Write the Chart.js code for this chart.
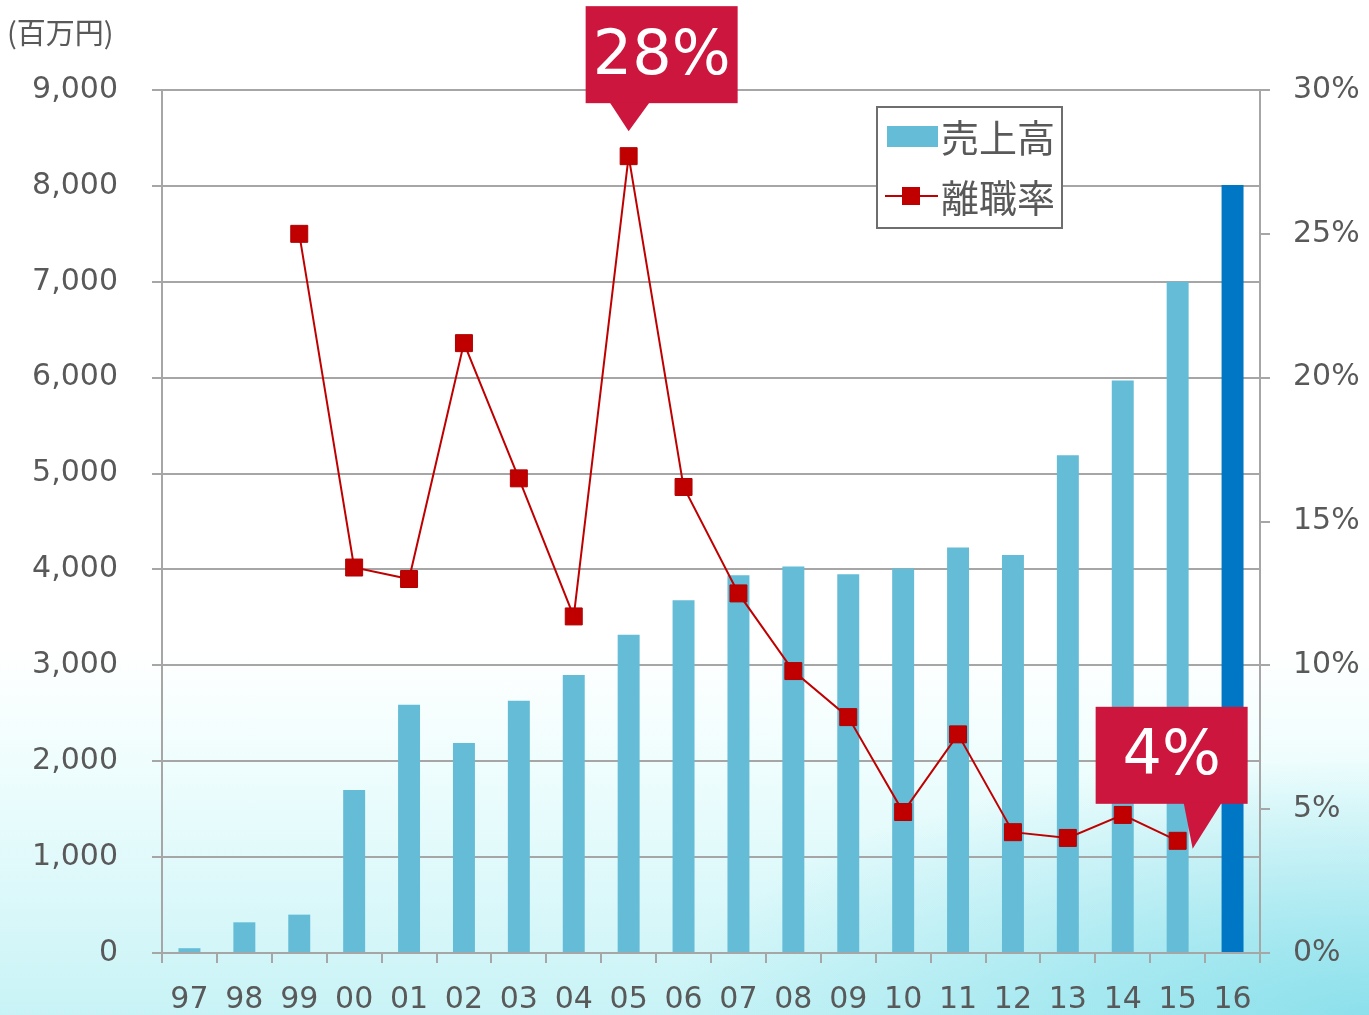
<!DOCTYPE html>
<html>
<head>
<meta charset="utf-8">
<script src="https://cdn.jsdelivr.net/npm/chart.js@4.4.1/dist/chart.umd.min.js"></script>
<style>
  html, body { margin: 0; padding: 0; }
  body {
    width: 1369px; height: 1015px; overflow: hidden; position: relative;
    background:
      radial-gradient(ellipse 700px 260px at 1369px 1015px, rgba(120, 218, 232, 0.75), rgba(120, 218, 232, 0) 100%),
      linear-gradient(180deg, #ffffff 0%, #ffffff 64%, #eefdfd 76%, #dcf8fa 88%, #c8f3f6 100%);
  }
  #wrap { position: absolute; left: 0; top: 0; width: 1369px; height: 1015px; }
  #unit {
    position: absolute; left: 7px; top: 10px;
    font: 29px 'Noto Sans CJK JP', sans-serif; color: #595959;
  }
</style>
</head>
<body>
<div id="wrap">
  <canvas id="salesChart" width="1369" height="1015"></canvas>
  <div id="unit">(百万円)</div>
</div>
<script>
// ================================
// Data
// ================================
const years = ['97', '98', '99', '00', '01', '02', '03', '04', '05', '06',
               '07', '08', '09', '10', '11', '12', '13', '14', '15', '16'];
const sales = [50, 320, 400, 1700, 2590, 2190, 2630, 2900, 3320, 3680,
               3940, 4030, 3950, 4010, 4230, 4150, 5190, 5970, 7000, 8010];
const turnover = [null, null, 25.0, 13.4, 13.0, 21.2, 16.5, 11.7, 27.7, 16.2,
                  12.5, 9.8, 8.2, 4.9, 7.6, 4.2, 4.0, 4.8, 3.9, null];
const salesLabel = '売上高';
const turnoverLabel = '離職率';
const callouts = [
  { index: 8, text: '28%' },
  { index: 18, text: '4%' }
];

const textColor = '#595959';
const gridColor = '#a6a6a6';
const barColor = '#65bcd6';
const lastBarColor = '#0077c4';
const lineColor = '#c00000';
const calloutColor = '#cc163e';

Chart.defaults.font.family = "'DejaVu Sans', 'Noto Sans CJK JP', sans-serif";
Chart.defaults.color = textColor;

// ================================
// Callouts + legend drawn on top
// ================================
const overlayPlugin = {
  id: 'overlay',
  afterDraw(chart) {
    const ctx = chart.ctx;
    const meta = chart.getDatasetMeta(0);

    // callout boxes
    callouts.forEach((c, n) => {
      const pt = meta.data[c.index];
      let tipX, tipY, boxL, boxT, baseL, baseR;
      if (n === 0) {
        tipX = pt.x; tipY = pt.y - 25;
        boxL = tipX - 43; boxT = tipY - 125;
        baseL = tipX - 19; baseR = tipX + 21;
      } else {
        tipX = pt.x + 15; tipY = pt.y + 8;
        boxL = tipX - 97; boxT = tipY - 142;
        baseL = tipX - 9; baseR = tipX + 29;
      }
      const boxW = 152, boxH = 97;
      ctx.save();
      ctx.fillStyle = calloutColor;
      ctx.fillRect(boxL, boxT, boxW, boxH);
      ctx.beginPath();
      ctx.moveTo(baseL, boxT + boxH - 1);
      ctx.lineTo(baseR, boxT + boxH - 1);
      ctx.lineTo(tipX, tipY);
      ctx.closePath();
      ctx.fill();
      ctx.fillStyle = '#ffffff';
      ctx.font = "62px 'DejaVu Sans', sans-serif";
      ctx.textAlign = 'center';
      ctx.textBaseline = 'middle';
      ctx.fillText(c.text, boxL + boxW / 2, boxT + boxH / 2 + 3);
      ctx.restore();
    });

    // legend box
    ctx.save();
    ctx.fillStyle = '#ffffff';
    ctx.fillRect(877, 107, 185, 121);
    ctx.strokeStyle = '#6e6e6e';
    ctx.lineWidth = 2;
    ctx.strokeRect(877, 107, 185, 121);
    ctx.fillStyle = barColor;
    ctx.fillRect(887, 126, 51, 21);
    ctx.strokeStyle = lineColor;
    ctx.beginPath();
    ctx.moveTo(885, 196);
    ctx.lineTo(938, 196);
    ctx.stroke();
    ctx.fillStyle = lineColor;
    ctx.fillRect(902, 187, 18, 18);
    ctx.fillStyle = textColor;
    ctx.font = "38px 'Noto Sans CJK JP', sans-serif";
    ctx.textBaseline = 'middle';
    ctx.fillText(salesLabel, 941, 138);
    ctx.fillText(turnoverLabel, 941, 198);
    ctx.restore();
  }
};

const ctx = document.getElementById('salesChart').getContext('2d');
const salesChart = new Chart(ctx, {
  data: {
    labels: years,
    datasets: [
      {
        type: 'line',
        label: turnoverLabel,
        data: turnover,
        yAxisID: 'yRate',
        borderColor: lineColor,
        borderWidth: 2,
        backgroundColor: lineColor,
        pointStyle: 'rect',
        pointRadius: 12,
        pointBorderWidth: 1,
        pointBorderColor: '#b00000',
        tension: 0,
        order: 0
      },
      {
        type: 'bar',
        label: salesLabel,
        data: sales,
        yAxisID: 'y',
        backgroundColor: sales.map((v, i) => i === sales.length - 1 ? lastBarColor : barColor),
        categoryPercentage: 1.0,
        barPercentage: 0.4,
        order: 1
      }
    ]
  },
  options: {
    responsive: false,
    animation: false,
    layout: { padding: { top: 90, left: 0, right: 0, bottom: 0 } },
    plugins: {
      legend: { display: false },
      tooltip: { enabled: false }
    },
    scales: {
      x: {
        grid: { display: true, drawOnChartArea: false, offset: true, tickLength: 10, color: gridColor, lineWidth: 2 },
        border: { display: true, color: gridColor, width: 2 },
        ticks: { font: { size: 30 }, color: textColor, padding: 19, maxRotation: 0, autoSkip: false },
        afterFit(scale) { scale.height = 62; }
      },
      y: {
        position: 'left',
        min: 0, max: 9000,
        grid: { color: gridColor, lineWidth: 2, tickLength: 10 },
        border: { display: true, color: gridColor, width: 2 },
        ticks: {
          stepSize: 1000,
          font: { size: 30 }, color: textColor, padding: 34,
          callback: v => v.toLocaleString('en-US')
        },
        afterFit(scale) { scale.width = 162; }
      },
      yRate: {
        position: 'right',
        min: 0, max: 30,
        grid: { drawOnChartArea: false, color: gridColor, lineWidth: 2, tickLength: 10 },
        border: { display: true, color: gridColor, width: 2 },
        ticks: {
          stepSize: 5,
          font: { size: 30 }, color: textColor, padding: 23,
          callback: v => v + '%'
        },
        afterFit(scale) { scale.width = 109; }
      }
    }
  },
  plugins: [overlayPlugin]
});
</script>
</body>
</html>
